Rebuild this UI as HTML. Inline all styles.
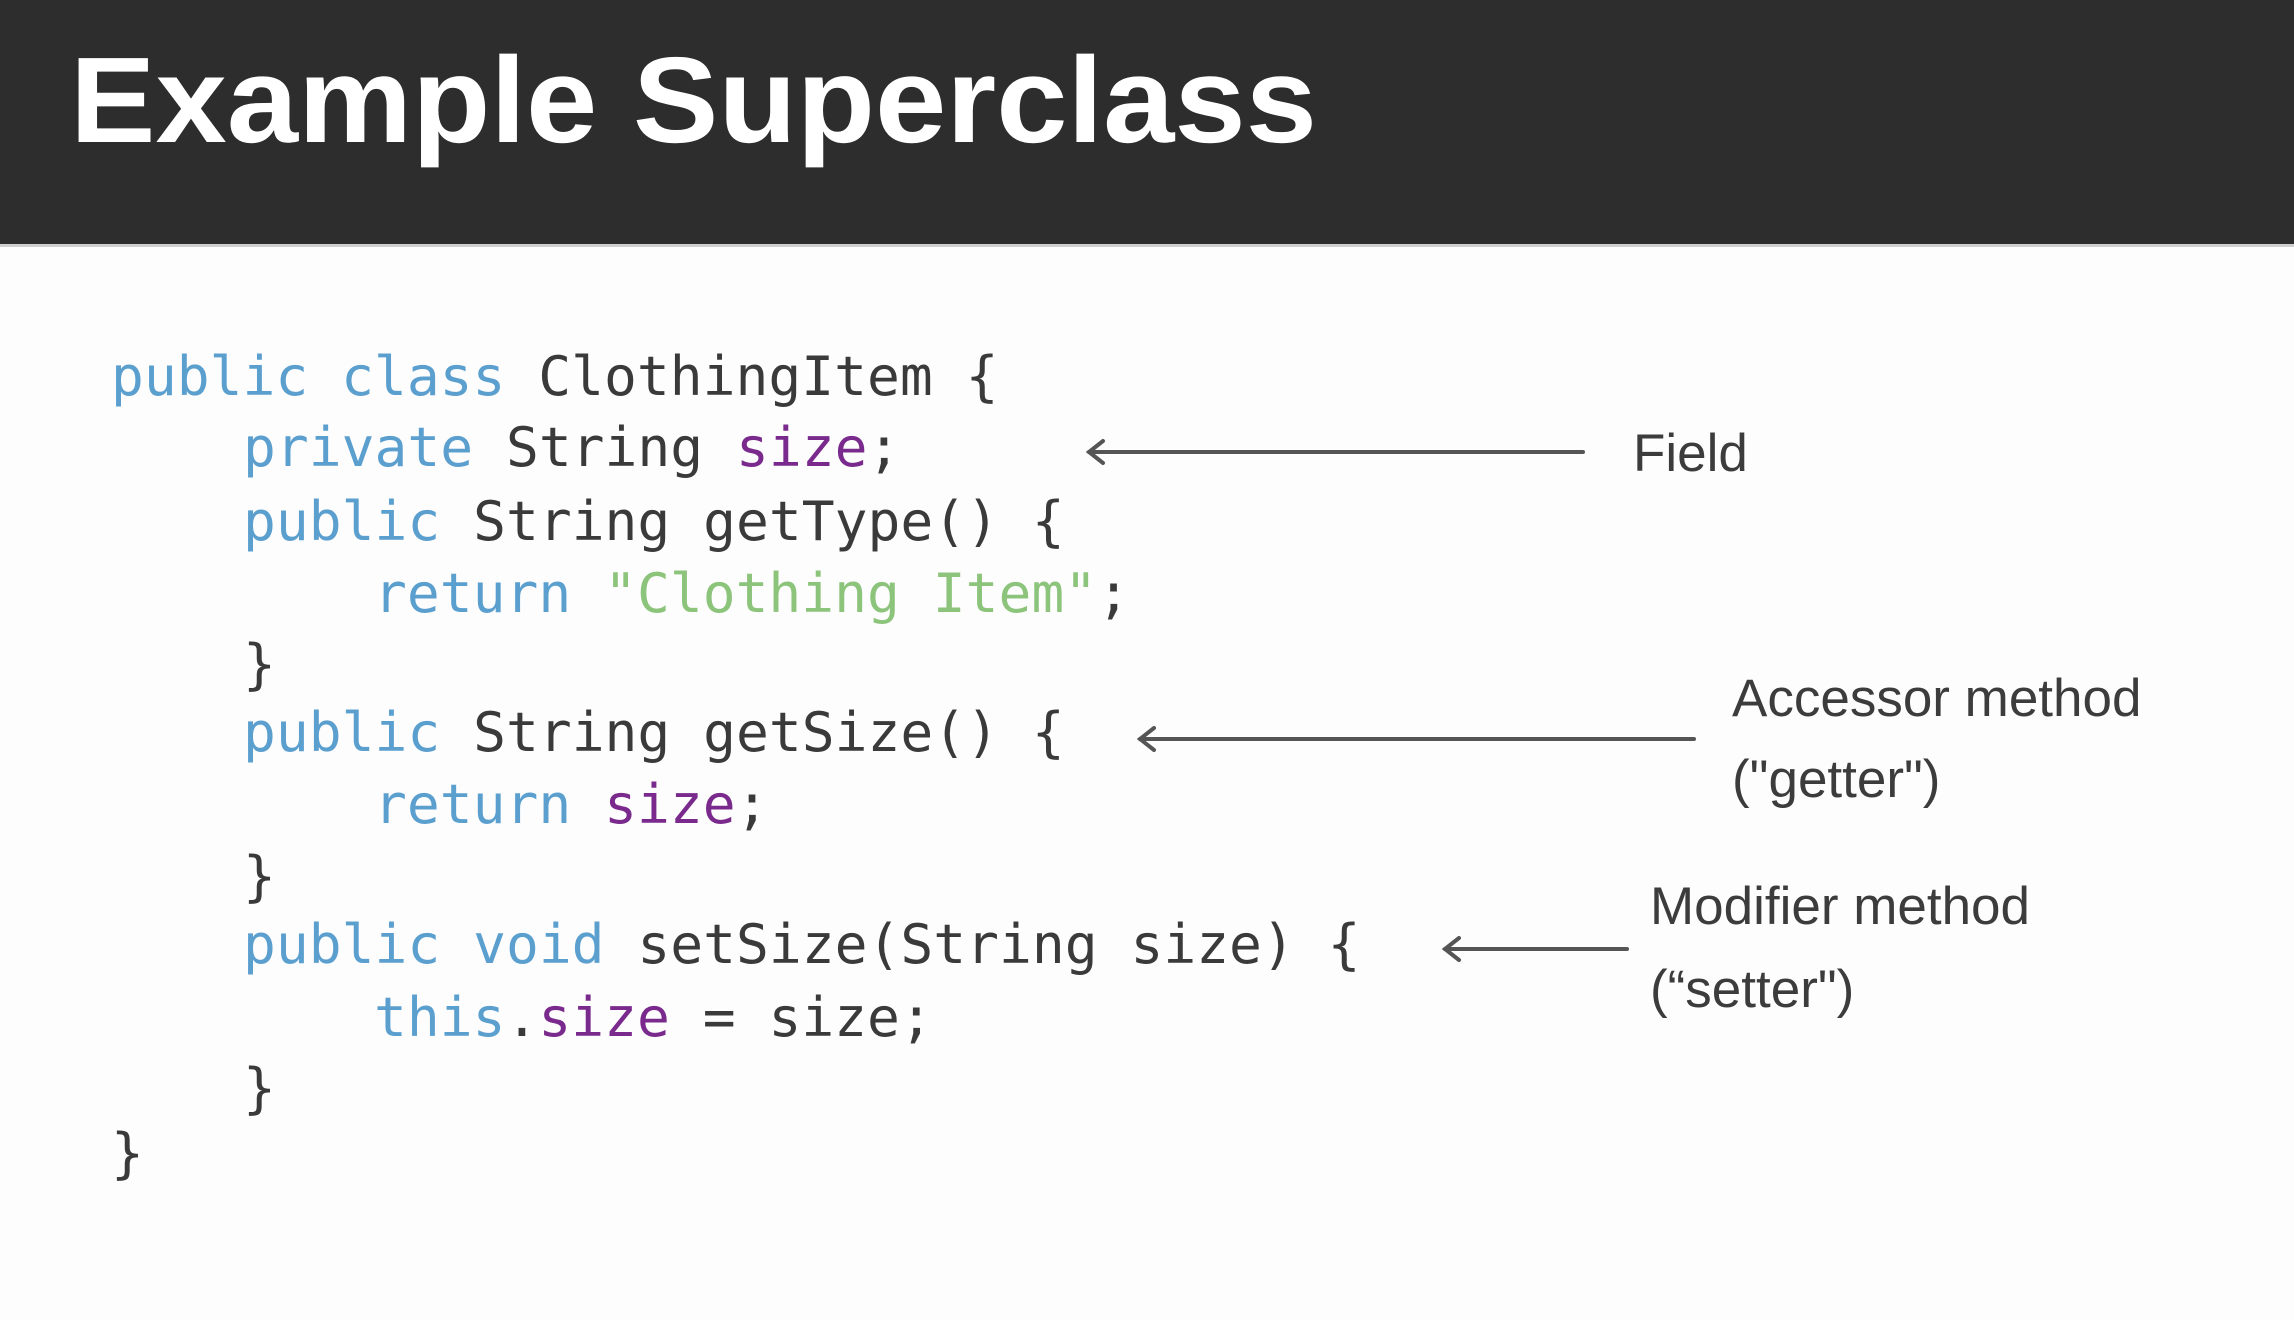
<!DOCTYPE html>
<html><head><meta charset="utf-8"><style>
html,body{margin:0;padding:0;background:#fdfdfd;}
svg{display:block}
.c{font-family:"DejaVu Sans Mono","Liberation Mono",monospace;font-size:54.6px;fill:#3a3a3a}
.k{fill:#5b9fcf}.p{fill:#7a2a8c}.s{fill:#8dc47c}
.l{font-family:"Liberation Sans",sans-serif;font-size:53px;fill:#3c3c3c}
</style></head><body>
<svg width="2294" height="1320" xmlns="http://www.w3.org/2000/svg">
<rect width="2294" height="1320" fill="#fdfdfd"/>
<rect width="2294" height="244" fill="#2d2d2d"/>
<rect y="244" width="2294" height="3" fill="#cfcfcf"/>
<text x="70" y="142" font-family="Liberation Sans, sans-serif" font-weight="bold" font-size="122" fill="#fff" textLength="1247" lengthAdjust="spacingAndGlyphs">Example Superclass</text>
<g class="c">
<text x="111" y="395"><tspan class="k">public class</tspan> ClothingItem {</text>
<text x="243" y="466"><tspan class="k">private</tspan> String <tspan class="p">size</tspan>;</text>
<text x="243" y="540"><tspan class="k">public</tspan> String getType() {</text>
<text x="374" y="612"><tspan class="k">return</tspan> <tspan class="s">"Clothing Item"</tspan>;</text>
<text x="243" y="683">}</text>
<text x="243" y="751"><tspan class="k">public</tspan> String getSize() {</text>
<text x="374" y="823"><tspan class="k">return</tspan> <tspan class="p">size</tspan>;</text>
<text x="243" y="895">}</text>
<text x="243" y="963"><tspan class="k">public void</tspan> setSize(String size) {</text>
<text x="374" y="1036"><tspan class="k">this</tspan>.<tspan class="p">size</tspan> = size;</text>
<text x="243" y="1107">}</text>
<text x="111" y="1172">}</text>
</g>
<g stroke="#555" stroke-width="4" fill="none" stroke-linecap="round">
<line x1="1089" y1="452" x2="1583" y2="452"/><polyline points="1103,441 1089,452 1103,463"/>
<line x1="1140" y1="739" x2="1694" y2="739"/><polyline points="1154,728 1140,739 1154,750"/>
<line x1="1445" y1="949" x2="1627" y2="949"/><polyline points="1459,938 1445,949 1459,960"/>
</g>
<text class="l" x="1633" y="471">Field</text>
<text class="l" x="1732" y="716">Accessor method</text>
<text class="l" x="1732" y="797">("getter")</text>
<text class="l" x="1650" y="924">Modifier method</text>
<text class="l" x="1650" y="1007">(“setter")</text>
</svg>
</body></html>
